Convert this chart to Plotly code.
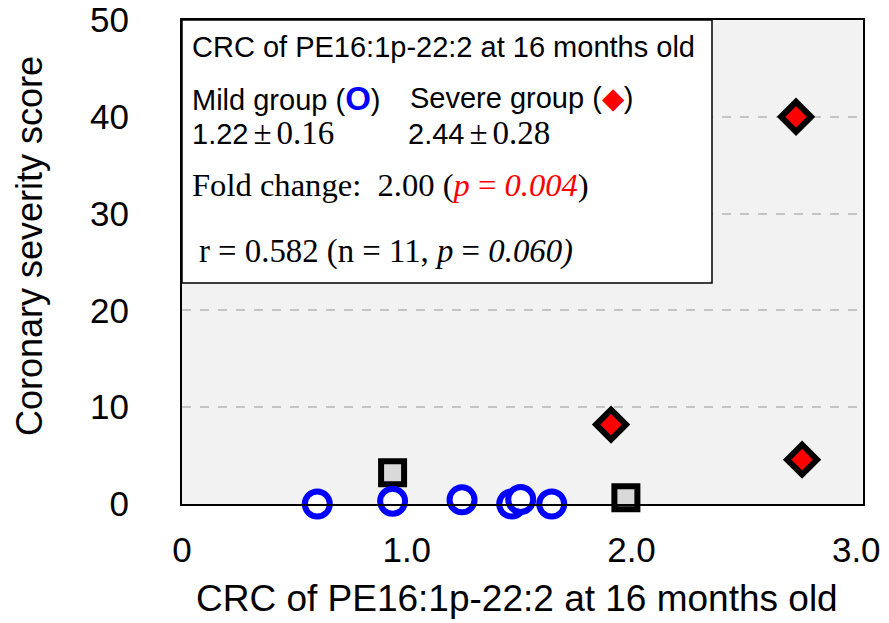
import plotly.graph_objects as go

# ---- data ----
mild_x = [0.602, 0.937, 1.246, 1.467, 1.507, 1.645]
mild_y = [0.0, 0.29, 0.43, 0.0, 0.47, 0.0]
other_x = [0.937, 1.975]
other_y = [3.23, 0.64]
severe_x = [1.909, 2.759, 2.732]
severe_y = [8.2, 4.58, 40.0]

x_tickvals = [0, 1, 2, 3]
x_ticktext = ["0", "1.0", "2.0", "3.0"]
y_tickvals = [0, 10, 20, 30, 40, 50]
y_ticktext = ["0", "10", "20", "30", "40", "50"]

x_title = "CRC of PE16:1p-22:2 at 16 months old"
y_title = "Coronary severity score"
box_title = "CRC of PE16:1p-22:2 at 16 months old"

SANS = "Liberation Sans, Arial, sans-serif"
SERIF = "Liberation Serif"

W, H = 889, 623
L, R, T, B = 182, 26, 20, 119
PW, PH = W - L - R, H - T - B


def px(xp):
    return (xp - L) / PW


def py(yp):
    return (H - B - yp) / PH


fig = go.Figure()
fig.add_trace(go.Scatter(
    x=other_x, y=other_y, mode="markers", cliponaxis=False,
    marker=dict(symbol="square", size=23, color="#d9d9d9",
                line=dict(color="black", width=6)),
    showlegend=False, hoverinfo="skip"))
fig.add_trace(go.Scatter(
    x=mild_x, y=mild_y, mode="markers", cliponaxis=False,
    marker=dict(symbol="circle", size=25, color="white",
                line=dict(color="#0000ff", width=6)),
    showlegend=False, hoverinfo="skip"))
fig.add_trace(go.Scatter(
    x=severe_x, y=severe_y, mode="markers", cliponaxis=False,
    marker=dict(symbol="diamond", size=23, color="#ff0000",
                line=dict(color="black", width=6)),
    showlegend=False, hoverinfo="skip"))

fig.update_layout(
    width=W, height=H,
    margin=dict(l=L, r=R, t=T, b=B, autoexpand=False),
    paper_bgcolor="white", plot_bgcolor="#f2f2f2",
    font=dict(family=SANS, color="black", size=35),
    xaxis=dict(range=[0, 3.03], tickvals=x_tickvals, ticktext=x_ticktext,
               showgrid=False, zeroline=False, showline=True, mirror=True,
               linecolor="black", linewidth=2, ticks="", automargin=False,
               ticklabelstandoff=14, tickfont=dict(size=35, family=SANS)),
    yaxis=dict(range=[0, 50], tickvals=y_tickvals, ticktext=y_ticktext,
               showgrid=True, gridcolor="#c4c4c4", griddash="dash", gridwidth=1.5,
               zeroline=False, showline=True, mirror=True, automargin=False,
               linecolor="black", linewidth=2, ticks="",
               ticklabelstandoff=44, tickfont=dict(size=35, family=SANS)),
)

# text box
fig.add_shape(type="rect", xref="paper", yref="paper",
              x0=0, x1=px(712), y0=py(283), y1=1,
              fillcolor="white", line=dict(color="black", width=1.5), layer="above")

ann = []


def add(text, x, y, size=29, family=SANS, color="black", **kw):
    ann.append(dict(text=text, x=x, y=y, xref="paper", yref="paper",
                    xanchor=kw.get("xanchor", "left"), yanchor="middle",
                    showarrow=False, textangle=kw.get("textangle", 0),
                    font=dict(size=size, family=family, color=color)))


sp = "<span style='font-size:18px'> </span>"
add(box_title, px(190), py(47))
add("Mild group (<b><span style='color:#0000ff;font-size:33px'>O</span></b>)", px(190), py(98))
add("Severe group (<span style='color:#ff0000'>◆</span>)", px(408), py(98))
add("1.22" + sp + "<span style='font-family:Liberation Serif;font-size:33px'>±</span>" + sp +
    "<span style='font-family:Liberation Serif;font-size:33px'>0.16</span>", px(190), py(133))
add("2.44" + sp + "<span style='font-family:Liberation Serif;font-size:33px'>±</span>" + sp +
    "<span style='font-family:Liberation Serif;font-size:33px'>0.28</span>", px(406), py(133))
add("Fold change:  2.00 (<span style='color:#ff0000'><i>p</i> = <i>0.004</i></span>)",
    px(190), py(185), size=32.6, family=SERIF)
add("r = 0.582 (n = 11, <i>p</i> = <i>0.060)</i>", px(197), py(252), size=32.8, family=SERIF)

# axis titles
add(x_title, px(517), py(598), size=37, xanchor="center")
add(y_title, px(29), py(246), size=36, xanchor="center", textangle=-90)

fig.update_layout(annotations=ann)
fig.write_html("out.html", config={"displayModeBar": False},
               post_script="document.body.style.margin='0';")
